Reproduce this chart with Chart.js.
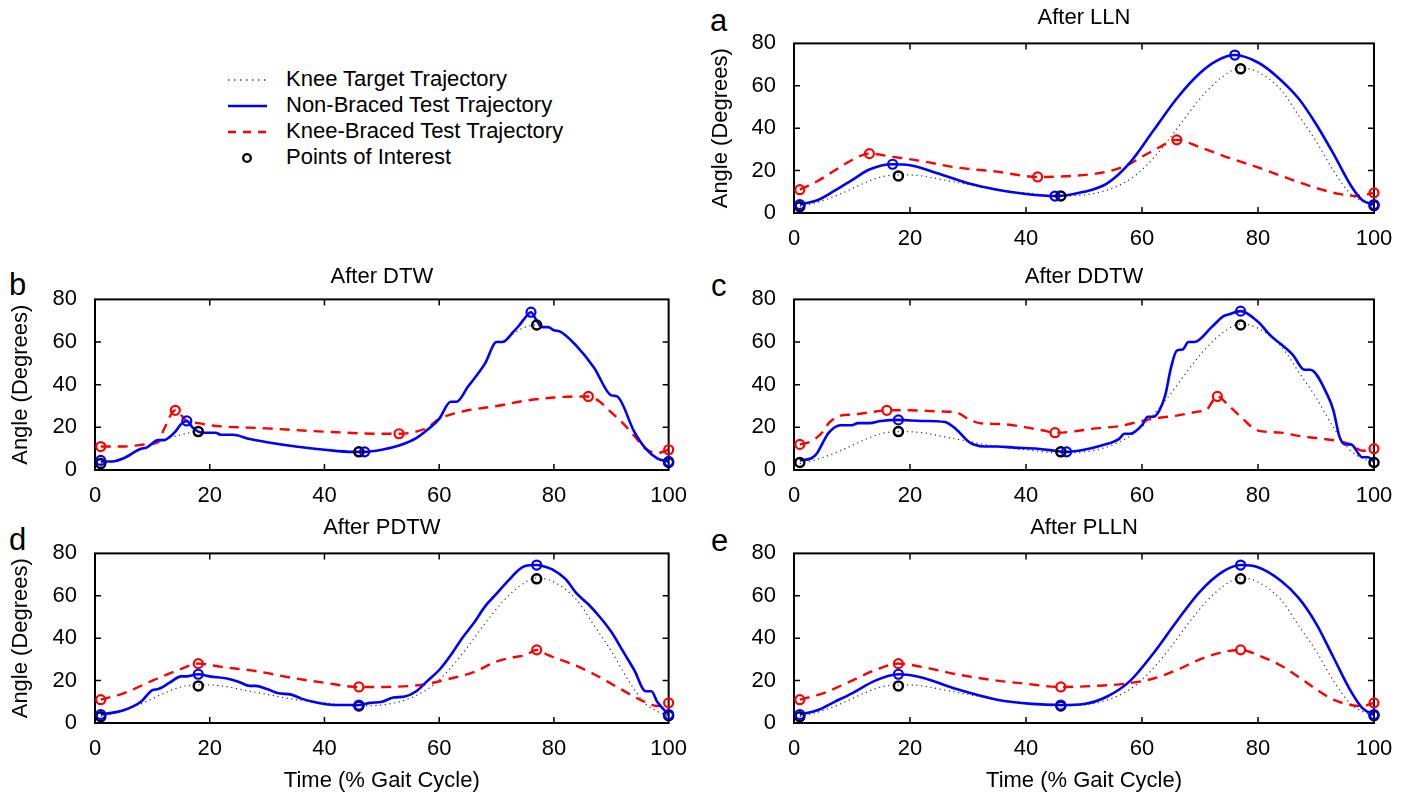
<!DOCTYPE html>
<html>
<head>
<meta charset="utf-8">
<script src="https://cdn.jsdelivr.net/npm/chart.js@4.4.0/dist/chart.umd.min.js"></script>
<style>
  body { margin: 0; background: #fff; }
  #page { position: relative; width: 1406px; height: 799px; overflow: hidden; font-family: "Liberation Sans", Arial, sans-serif; }
  canvas { position: absolute; }
  .letter { position: absolute; font-size: 31px; line-height: 31px; color: #000; }
  #legend { position: absolute; left: 226px; top: 66px; font-size: 22px; color: #000; }
  #legend .row { position: relative; height: 26px; }
  #legend svg { position: absolute; left: 0; top: 0; }
  #legend span { position: absolute; left: 60px; top: 1px; line-height: 24px; white-space: nowrap; }
</style>
</head>
<body>
<div id="page">
  <div id="legend">
    <div class="row"><svg width="60" height="26"><line x1="2" y1="14" x2="40" y2="14" stroke="#444" stroke-width="1.3" stroke-dasharray="1.5 4.5"/></svg><span>Knee Target Trajectory</span></div>
    <div class="row"><svg width="60" height="26"><line x1="2" y1="14" x2="41" y2="14" stroke="#0000ff" stroke-width="2.5"/></svg><span>Non-Braced Test Trajectory</span></div>
    <div class="row"><svg width="60" height="26"><line x1="2" y1="14" x2="42" y2="14" stroke="#ff0000" stroke-width="2.5" stroke-dasharray="8 7"/></svg><span>Knee-Braced Test Trajectory</span></div>
    <div class="row"><svg width="60" height="26"><circle cx="21" cy="14" r="3.8" fill="none" stroke="#000" stroke-width="2.3"/></svg><span>Points of Interest</span></div>
  </div>
  <div class="letter" style="left:710px;top:5px">a</div>
  <div class="letter" style="left:9px;top:269px">b</div>
  <div class="letter" style="left:711px;top:270px">c</div>
  <div class="letter" style="left:9px;top:524px">d</div>
  <div class="letter" style="left:711px;top:525px">e</div>
  <canvas id="chartA" width="706" height="255" style="left:700px;top:0px"></canvas>
  <canvas id="chartB" width="700" height="250" style="left:0px;top:255px"></canvas>
  <canvas id="chartC" width="706" height="250" style="left:700px;top:255px"></canvas>
  <canvas id="chartD" width="700" height="294" style="left:0px;top:505px"></canvas>
  <canvas id="chartE" width="706" height="294" style="left:700px;top:505px"></canvas>
</div>
<script>
// knee target trajectory [time %, angle]
const target = [[1,3],[4,5],[8,9],[12,14],[15,17],[18,18],[22,17.5],[26,15.5],[30,13.5],[35,11],[40,9.5],[46,8],[50,8.5],[53,10],[56,13],[59,18],[62,26],[65,36],[68,47],[71,57],[74,64.5],[77,68.5],[80,66.5],[84,58],[87,46],[90,34],[93,20],[96,9],[100,3]];
// target after DTW warping
const targetDTW = [[1,3],[3,4],[5,5.5],[8,10],[9,10.5],[11,14],[12,14],[13,15],[15,16.5],[18,18],[19,17.5],[21,17.5],[22,16.5],[24,16.5],[27,14.5],[30,13],[35,11],[40,9.5],[46,8.5],[50,9.5],[53,11.5],[56,15],[58,19],[60,24],[62,32],[63,32],[65,39],[68,50],[70,60],[71,60],[73,64],[75,67],[77,68],[78,67],[79,67],[80,65.5],[81,65],[84,58],[87,48],[90,35],[91,34.5],[94,18],[96,10],[98,5.5],[100,3.5]];

// a: After LLN
const llnBlue = [[1,4],[4,6],[7,10.5],[10,15.5],[13,20.5],[17,23],[20,22.5],[25,18.5],[30,14],[35,11],[40,9],[45,8],[50,10],[54,14],[58,24],[62,39],[66,54],[70,66],[73,72],[76,74.5],[80,71],[83,65],[87,54],[90,42],[93,28],[96,13],[98,6],[100,4]];
const llnRed = [[1,11],[4,15],[7,20],[10,25],[13,28],[17,26.5],[22,24.5],[28,21.5],[35,19.5],[42,17],[48,17.5],[53,19],[57,22],[60,26.5],[63,31],[66,34.5],[70,31],[75,26],[80,21.5],[84,17.5],[87,14.6],[91,11],[94,9],[97,8],[100,9.5]];
const llnPoiBlue = [[1,4],[17,23],[45,8],[76,74.5],[100,4]];
const llnPoiRed = [[1,11],[13,28],[42,17],[66,34.5],[100,9.5]];
const llnPoiBlack = [[1,3],[18,17.5],[46,8],[77,68],[100,3.5]];

// b: After DTW
const dtwBlue = [[1,4],[3,4],[5,5.5],[8,10],[9,10.5],[11,14],[12,14],[13,15.5],[14,18],[15,21.5],[16,23],[17,20],[18,18],[19,17.5],[21,17.5],[22,16.5],[24,16.5],[27,14.5],[30,13],[35,11],[40,9.5],[45,8.5],[47,8.5],[50,9.5],[53,11.5],[56,15],[58,19],[60,24],[62,32],[63,32],[65,39],[68,50],[70,60],[71,60],[73,65],[74,68],[75,71.5],[76,74],[77,70],[78,67],[79,67],[80,65.5],[81,65],[84,58],[87,48],[90,35],[91,34.5],[94,18],[96,10],[98,5.5],[100,4]];
const dtwRed = [[1,11],[5,11],[9,12],[11,13],[12,19],[14,28],[16,23],[18,22],[20,21],[30,19.5],[40,18],[50,17],[53,17],[56,18],[58,20],[60,24],[62,26],[65,28],[70,30],[75,32.5],[80,34],[84,34.5],[86,34.5],[88,32],[90,27],[92,22],[94,16],[96,10],[98,8],[100,9.5]];
const dtwPoiBlue = [[1,4.5],[16,23],[47,8.5],[76,74],[100,4]];
const dtwPoiRed = [[1,11],[14,28],[53,17],[86,34.5],[100,9.5]];
const dtwPoiBlack = [[1,3],[18,18],[46,8.5],[77,68],[100,3.5]];

// c: After DDTW
const ddtwBlue = [[1,4.5],[3,5.5],[4,8],[5,13],[6,17.5],[8,21],[10,21],[11,22],[13,22],[15,23],[18,23.5],[22,23],[26,22.5],[28,19],[30,13.5],[31,12],[33,11],[35,11],[38,10.5],[42,10],[45,9],[47,8.5],[50,9.5],[53,11.5],[56,14.5],[57,17],[58,17],[60,21],[61,25],[62,25],[63,28],[64,35],[65,48],[66,56],[67,56.5],[68,60],[69,60],[72,67],[74,72],[75,73],[77,74.5],[80,69.5],[82,63.5],[86,54],[88,47],[89,47],[92,35],[93,28],[94,16],[95,12],[96,12],[98,6],[99,6],[100,4]];
const ddtwRed = [[1,12],[3,13.5],[5,18],[6,22],[8,25.5],[10,26],[13,27],[16,28],[20,28],[25,27.5],[28,27],[30,24],[32,22],[36,21.5],[40,20],[43,18.5],[45,17.5],[48,18],[52,19.5],[56,20.5],[60,23],[63,24.5],[66,25.5],[70,27.5],[71,28],[73,34.5],[75,30],[77,25],[79,20],[80,18.5],[84,17.5],[87,16],[90,15],[94,13.5],[96,12],[98,9],[100,10]];
const ddtwPoiBlue = [[18,23.5],[47,8.5],[77,74.5]];
const ddtwPoiRed = [[1,12],[16,28],[45,17.5],[73,34.5],[100,10]];
const ddtwPoiBlack = [[1,3.5],[18,18],[46,8.5],[77,68],[100,3.5]];

// d: After PDTW
const pdtwBlue = [[1,4],[5,6],[8,10],[10,15.5],[11,16],[13,19],[15,22],[16,22],[18,23],[20,22],[23,21],[25,19.5],[27,17.5],[28,17.5],[30,16],[32,14],[34,13.5],[36,11.5],[38,10],[40,9],[42,8.5],[46,8.5],[48,9.5],[50,10],[52,12],[54,12.5],[56,15],[58,20],[60,25],[62,32],[64,40],[66,47],[68,55],[70,61],[72,67],[74,72.5],[75,74],[77,74.5],[78,74],[80,72],[82,68],[84,61],[86,56],[88,50],[90,43],[92,34],[94,25],[96,15],[97,15],[98,10],[100,4]];
const pdtwRed = [[1,11],[5,14],[10,20],[15,25.5],[18,28],[22,26.5],[28,24.5],[35,21],[40,19],[46,17],[50,17],[55,17.5],[58,18.5],[62,21],[66,24],[70,29],[73,31],[75,32],[77,34.5],[79,32],[83,28],[87,23],[91,17],[95,11],[98,8],[100,9.5]];
const pdtwPoiBlue = [[1,4],[18,23],[46,8.5],[77,74.5],[100,4]];
const pdtwPoiRed = [[1,11],[18,28],[46,17],[77,34.5],[100,9.5]];
const pdtwPoiBlack = [[1,3],[18,17.5],[46,8],[77,68],[100,3.5]];

// e: After PLLN
const pllnBlue = [[1,4],[4,6],[7,10],[10,14],[14,20],[18,23],[22,21.5],[28,16],[35,11],[41,9],[46,8.5],[50,9],[54,12.5],[58,20],[62,33],[66,48],[70,62],[74,71.5],[77,74.5],[80,73.5],[84,67],[87,59],[90,47],[93,31],[96,15],[98,7],[100,4]];
const pllnRed = [[1,11],[5,14],[10,20],[14,25],[18,28],[22,26.5],[28,23],[35,20],[40,18.5],[46,17],[52,17.5],[57,18.5],[62,21],[66,25],[70,30],[74,33.5],[77,34.5],[80,32],[84,27],[87,21.7],[90,16],[93,11],[96,8.5],[98,8],[100,9.5]];
const pllnPoiBlue = [[1,4],[18,23],[46,8.5],[77,74.5],[100,4]];
const pllnPoiRed = [[1,11],[18,28],[46,17],[77,34.5],[100,9.5]];
const pllnPoiBlack = [[1,3],[18,17.5],[46,8],[77,68],[100,3.5]];

const FONT = '"Liberation Sans", Arial, sans-serif';
const FSIZE = 22;
const BLUE = '#0000ff';
const RED = '#ff0000';

const toXY = arr => arr.map(p => ({ x: p[0], y: p[1] }));

// frame with inward ticks on all four sides
const boxPlugin = {
  id: 'box',
  beforeDatasetsDraw(chart) {
    const { ctx, chartArea: a, scales } = chart;
    ctx.save();
    ctx.strokeStyle = '#000';
    ctx.lineWidth = 1.5;
    ctx.beginPath();
    scales.x.ticks.forEach(t => {
      if (t.value <= 0 || t.value >= 100) return;
      const px = scales.x.getPixelForValue(t.value);
      ctx.moveTo(px, a.bottom); ctx.lineTo(px, a.bottom - 6);
      ctx.moveTo(px, a.top); ctx.lineTo(px, a.top + 6);
    });
    scales.y.ticks.forEach(t => {
      if (t.value <= 0 || t.value >= 80) return;
      const py = scales.y.getPixelForValue(t.value);
      ctx.moveTo(a.left, py); ctx.lineTo(a.left + 6, py);
      ctx.moveTo(a.right, py); ctx.lineTo(a.right - 6, py);
    });
    ctx.stroke();
    ctx.lineWidth = 2;
    ctx.strokeRect(a.left, a.top, a.right - a.left, a.bottom - a.top);
    ctx.restore();
  }
};

function poiSet(data, color, w) {
  return {
    data: toXY(data), showLine: false, clip: false,
    pointStyle: 'circle', pointRadius: 4.5, borderColor: color,
    backgroundColor: 'rgba(0,0,0,0)', pointBorderWidth: w
  };
}

function makePanel(id, opt) {
  new Chart(document.getElementById(id), {
    type: 'line',
    data: {
      datasets: [
        poiSet(opt.poiBlue, BLUE, 2.2),
        poiSet(opt.poiRed, RED, 2.2),
        poiSet(opt.poiBlack, '#000', 2.5),
        { data: toXY(opt.blue), borderColor: BLUE, borderWidth: 2.6, pointRadius: 0, cubicInterpolationMode: 'monotone' },
        { data: toXY(opt.red), borderColor: RED, borderWidth: 2.4, borderDash: [10, 7], pointRadius: 0, cubicInterpolationMode: 'monotone' },
        { data: toXY(opt.target), borderColor: '#333', borderWidth: 1.2, borderDash: [1.2, 3.5], pointRadius: 0, cubicInterpolationMode: 'monotone' }
      ]
    },
    options: {
      responsive: false,
      devicePixelRatio: 1,
      animation: false,
      layout: { padding: { right: opt.padRight } },
      plugins: {
        legend: { display: false },
        tooltip: { enabled: false },
        title: {
          display: true, text: opt.title, fullSize: false, color: '#000',
          font: { family: FONT, size: FSIZE, weight: 'normal' },
          padding: { top: opt.titleTop, bottom: opt.titleBottom }
        }
      },
      scales: {
        x: {
          type: 'linear', min: 0, max: 100,
          ticks: { stepSize: 20, color: '#000', padding: 13, maxRotation: 0, font: { family: FONT, size: FSIZE } },
          grid: { display: false, drawTicks: false },
          border: { display: false },
          title: { display: opt.xTitle, text: 'Time (% Gait Cycle)', color: '#000', font: { family: FONT, size: FSIZE }, padding: { top: 0, bottom: 5 } },
          afterFit: s => { s.height = opt.xHeight; }
        },
        y: {
          min: 0, max: 80,
          ticks: { stepSize: 20, color: '#000', padding: 18, font: { family: FONT, size: FSIZE } },
          grid: { display: false, drawTicks: false },
          border: { display: false },
          title: { display: opt.yTitle, text: 'Angle (Degrees)', color: '#000', font: { family: FONT, size: FSIZE }, padding: { top: 8, bottom: 0 } },
          afterFit: s => { s.width = opt.yWidth; }
        }
      }
    },
    plugins: [boxPlugin]
  });
}

makePanel('chartA', { title: 'After LLN', target: target, blue: llnBlue, red: llnRed, poiBlue: llnPoiBlue, poiRed: llnPoiRed, poiBlack: llnPoiBlack,
  yTitle: true, xTitle: false, yWidth: 94, xHeight: 42, padRight: 32, titleTop: 5, titleBottom: 12 });
makePanel('chartB', { title: 'After DTW', target: targetDTW, blue: dtwBlue, red: dtwRed, poiBlue: dtwPoiBlue, poiRed: dtwPoiRed, poiBlack: dtwPoiBlack,
  yTitle: true, xTitle: false, yWidth: 95, xHeight: 35, padRight: 25, titleTop: 9, titleBottom: 9 });
makePanel('chartC', { title: 'After DDTW', target: target, blue: ddtwBlue, red: ddtwRed, poiBlue: ddtwPoiBlue, poiRed: ddtwPoiRed, poiBlack: ddtwPoiBlack,
  yTitle: false, xTitle: false, yWidth: 94, xHeight: 35, padRight: 32, titleTop: 9, titleBottom: 9 });
makePanel('chartD', { title: 'After PDTW', target: target, blue: pdtwBlue, red: pdtwRed, poiBlue: pdtwPoiBlue, poiRed: pdtwPoiRed, poiBlack: pdtwPoiBlack,
  yTitle: true, xTitle: true, yWidth: 95, xHeight: 76, padRight: 25, titleTop: 10, titleBottom: 12 });
makePanel('chartE', { title: 'After PLLN', target: target, blue: pllnBlue, red: pllnRed, poiBlue: pllnPoiBlue, poiRed: pllnPoiRed, poiBlack: pllnPoiBlack,
  yTitle: false, xTitle: true, yWidth: 94, xHeight: 76, padRight: 32, titleTop: 10, titleBottom: 12 });
</script>
</body>
</html>
